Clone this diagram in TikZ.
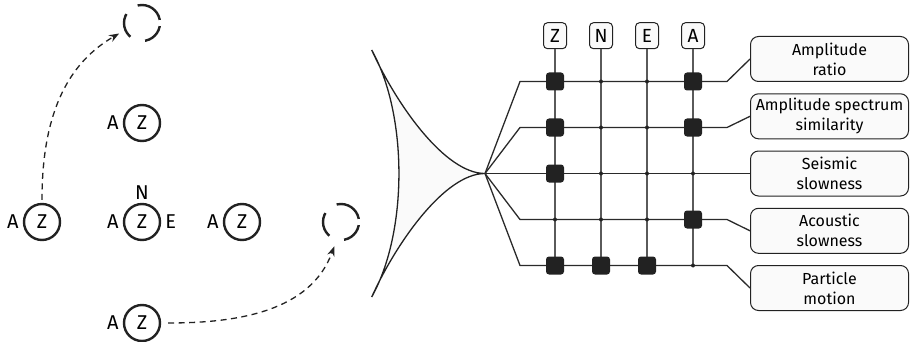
\documentclass[tikz,border=0pt]{standalone}
\usepackage{fontspec}
\setmainfont{Fira Sans}
\usetikzlibrary{arrows.meta,positioning}
\definecolor{ink}{HTML}{222222}
\definecolor{wirecol}{HTML}{2A2A2A}
\definecolor{colgray}{HTML}{5A5A5A}
\definecolor{paper}{HTML}{FAFAFA}
\tikzstyle{sta}=[circle,draw=ink,line width=2.4pt,minimum size=36pt,inner sep=0pt,font=\fontsize{20}{24}\selectfont]
\tikzstyle{gone}=[sta,dash pattern=on 29.5pt off 14.5pt on 25pt off 15.7pt on 22pt off 6.4pt,dash phase=110pt]
\tikzstyle{lbl}=[inner sep=1pt,font=\fontsize{20}{24}\selectfont]
\tikzstyle{move}=[draw=ink,line width=1.3pt,dash pattern=on 6pt off 4.5pt,-{Stealth[length=10pt,width=7.5pt]}]
\tikzstyle{chan}=[draw=ink,fill=paper,rounded corners=4pt,minimum width=23pt,minimum height=26pt,inner sep=0pt,line width=1pt,font=\fontsize{19}{22}\selectfont]
\tikzstyle{feat}=[draw=ink,fill=paper,rounded corners=8pt,minimum width=158pt,minimum height=45pt,inner sep=0pt,align=center,line width=1pt,font=\fontsize{16}{20}\selectfont]
\tikzstyle{hit}=[fill=ink,rounded corners=3pt,minimum size=18pt,inner sep=0pt]
\tikzstyle{tap}=[circle,fill=ink,minimum size=4pt,inner sep=0pt]
\tikzstyle{wire}=[draw=wirecol,line width=1.3pt]
\tikzstyle{col}=[draw=colgray,line width=1.3pt]

\begin{document}
\begin{tikzpicture}[x=1pt,y=1pt]
\useasboundingbox (0,0) rectangle (912,-342);
% stations on the left
\node[sta] (z1) at (42,-222) {Z};
\node[sta] (z2) at (142,-123) {Z};
\node[sta] (z3) at (142,-222) {Z};
\node[sta] (z4) at (242,-222) {Z};
\node[sta] (z5) at (142,-323) {Z};
\node[lbl, left=3pt of z1] (a1) {A};
\node[lbl, left=3pt of z2] (a2) {A};
\node[lbl, left=3pt of z3] (a3) {A};
\node[lbl, left=3pt of z4] (a4) {A};
\node[lbl, left=3pt of z5] (a5) {A};
\node[lbl, above=2pt of z3] (n3) {N};
\node[lbl, right=3pt of z3] (e3) {E};
\node[gone] (g1) at (142,-23) {};
\node[gone] (g2) at (341,-222) {};
\draw[move, shorten <=3pt, shorten >=6pt] (z1.north) to[out=90,in=210] (g1.203);
\draw[move, shorten <=7pt, shorten >=6pt] (z5.east) to[out=0,in=250] (g2.256);

% cusp
\coordinate (fan) at (485,-173.5);
\draw[draw=ink,fill=paper,line width=1.3pt] (371.7,-50) .. controls (396.7,-105) and (445,-173.5) .. (fan)
  .. controls (445,-173.5) and (396.7,-242) .. (371.7,-297)
  .. controls (408,-232) and (408,-115) .. cycle;

% features
\node[feat] (f1) at (829.5,-59) {Amplitude\\ratio};
\node[feat] (f2) at (829.5,-116.3) {Amplitude spectrum\\similarity};
\node[feat] (f3) at (829.5,-173.5) {Seismic\\slowness};
\node[feat] (f4) at (829.5,-230.8) {Acoustic\\slowness};
\node[feat] (f5) at (829.5,-288) {Particle\\motion};

% channels
\node[chan] (cZ) at (555,-35.7) {Z};
\node[chan] (cN) at (601,-35.7) {N};
\node[chan] (cE) at (647,-35.7) {E};
\node[chan] (cA) at (693,-35.7) {A};

\foreach \y [count=\i] in {81.5,127.5,173.5,219.5,265.5} {
  \coordinate (s\i) at (520,-\y);
  \coordinate (e\i) at (727,-\y);
  \draw[wire] (fan) -- (s\i) -- (e\i) -- (f\i.west);
}
\foreach \c in {Z,N,E,A}
  \draw[col] (c\c.south) -- (c\c.south |- s5);

\foreach \c/\r in {Z/1,A/1,Z/2,A/2,Z/3,A/4,Z/5,N/5,E/5}
  \node[hit] (h\c\r) at (c\c |- s\r) {};
\foreach \c/\r in {N/1,E/1,N/2,E/2,N/3,E/3,A/3,Z/4,N/4,E/4,A/5}
  \node[tap] (t\c\r) at (c\c |- s\r) {};
\end{tikzpicture}
\end{document}
